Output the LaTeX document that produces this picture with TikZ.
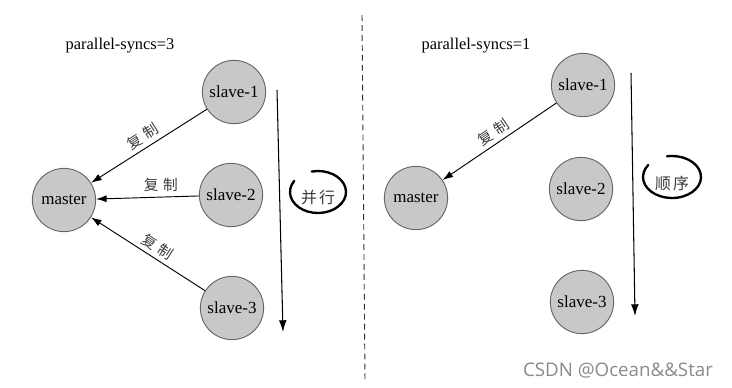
\documentclass[tikz,border=0pt]{standalone}
\usepackage{fontspec}
\setmainfont{Liberation Serif}
\newfontfamily\cjk{Noto Sans CJK SC}
\newfontfamily\wmfont{Open Sans}
\usetikzlibrary{arrows.meta}
\definecolor{ballfill}{HTML}{C8C8C8}
\definecolor{balldraw}{HTML}{666666}
\definecolor{lblgray}{HTML}{3A3A3A}
\definecolor{wmgray}{HTML}{8A8A8A}
\begin{document}
\begin{tikzpicture}[x=0.03cm,y=-0.03cm,
  ball/.style={circle,draw=balldraw,fill=ballfill,line width=0.8pt,minimum size=54pt,inner sep=0pt,font=\fontsize{14.5}{16}\selectfont},
  rep/.style={-{Latex[length=9pt,width=6pt]},line width=0.8pt},
  lbl/.style={font=\cjk\fontsize{12.5}{14}\selectfont,text=lblgray,inner sep=1.5pt},
  title/.style={font=\fontsize{14}{16}\selectfont},
  flow/.style={-{Latex[length=10pt,width=6.5pt]},line width=0.9pt},
  hand/.style={line width=2pt,line cap=round},
  handtxt/.style={font=\cjk\fontsize{13.5}{15}\selectfont,text=lblgray},
  divider/.style={dashed,dash pattern=on 5pt off 3.5pt,line width=0.8pt,draw=black!80}]
\useasboundingbox (0,0) rectangle (732,387);

% ---------- left panel ----------
\node[title] (t1) at (120,46) {parallel-syncs=3};
\node[ball] (m1) at (64,200) {master};
\node[ball] (a1) at (234,92) {slave-1};
\node[ball] (a2) at (231,195) {slave-2};
\node[ball] (a3) at (232,308) {slave-3};
\draw[rep] (a1) -- node[lbl,sloped,above=2pt,midway] {复\hspace{4pt}制} (m1);
\draw[rep] (a2) -- node[lbl,above=3pt,pos=0.37] {复\hspace{4pt}制} (m1);
\draw[rep] (a3) -- node[lbl,sloped,above=2pt,pos=0.47] {复\hspace{4pt}制} (m1);
\coordinate (v1s) at (277,90);
\coordinate (v1e) at (283,332);
\draw[flow] (v1s) -- (v1e);
\node[handtxt] (p1) at (318,198) {并\hspace{2pt}行};
\draw[hand] (318,192) ++(-103:28 and 21) arc[start angle=-103, end angle=212, x radius=28, y radius=21];

% ---------- divider ----------
\coordinate (d1) at (362,15);
\coordinate (d2) at (365,380);
\draw[divider] (d1) -- (d2);

% ---------- right panel ----------
\node[title] (t2) at (476,46) {parallel-syncs=1};
\node[ball] (m2) at (416,198) {master};
\node[ball] (b1) at (583,85) {slave-1};
\node[ball] (b2) at (581,189) {slave-2};
\node[ball] (b3) at (582,302) {slave-3};
\draw[rep] (b1) -- node[lbl,sloped,above=2pt,midway] {复\hspace{4pt}制} (m2);
\coordinate (v2s) at (631,73);
\coordinate (v2e) at (635,316);
\draw[flow] (v2s) -- (v2e);
\node[handtxt] (p2) at (672,183) {顺\hspace{2pt}序};
\draw[hand] (672,177) ++(-100:29 and 21) arc[start angle=-100, end angle=215, x radius=29, y radius=21];

% ---------- watermark ----------
\node[font=\wmfont\fontsize{16}{18}\selectfont,text=wmgray] (wm) at (618,371) {CSDN @Ocean\&\&Star};
\end{tikzpicture}
\end{document}
